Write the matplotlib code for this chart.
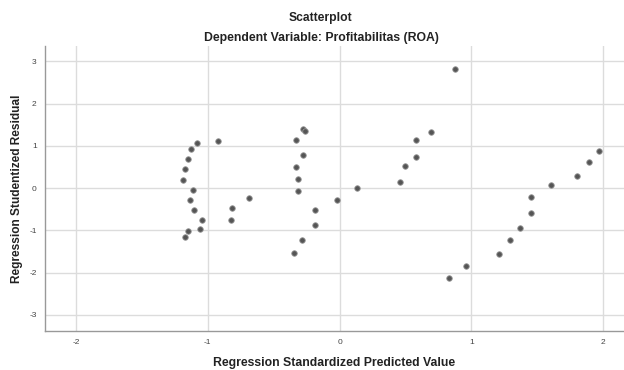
import matplotlib
matplotlib.use("Agg")
import matplotlib.pyplot as plt

pred = [-1.083, -1.127, -1.149, -1.172, -1.185, -1.112, -1.134, -1.106, -1.041, -1.056,
        -1.152, -1.170, -0.922, -0.816, -0.821, -0.684, -0.275, -0.264, -0.328, -0.277,
        -0.332, -0.317, -0.317, -0.184, -0.186, -0.287, -0.345, -0.021, 0.130, 0.879,
        0.697, 0.578, 0.580, 0.497, 0.457, 1.971, 1.891, 1.802, 1.602, 1.451,
        1.455, 1.372, 1.291, 1.210, 0.962, 0.833]
resid = [1.071, 0.929, 0.678, 0.449, 0.196, -0.054, -0.291, -0.520, -0.764, -0.962,
         -1.009, -1.158, 1.118, -0.466, -0.764, -0.236, 1.395, 1.355, 1.128, 0.780,
         0.496, 0.213, -0.064, -0.513, -0.882, -1.229, -1.544, -0.277, 0.007, 2.806,
         1.331, 1.135, 0.733, 0.520, 0.135, 0.868, 0.608, 0.284, 0.071, -0.206,
         -0.598, -0.939, -1.222, -1.553, -1.844, -2.121]
xticks = [-2, -1, 0, 1, 2]
yticks = [-3, -2, -1, 0, 1, 2, 3]

plt.rcParams['font.family'] = ['Liberation Sans', 'DejaVu Sans']
fig = plt.figure(figsize=(6.24, 3.70), dpi=100)
W, H = 624, 370
ax = fig.add_axes([45 / W, 1 - 331 / H, (624 - 45) / W, (331 - 46) / H])

ax.scatter(pred, resid, s=16, color='#555555', edgecolors='#9a9a9a', linewidths=0.6, zorder=3)

ax.set_xlim(-2.234, 2.158)
ax.set_ylim(-3.38, 3.36)
ax.set_xticks(xticks)
ax.set_yticks(yticks)
ax.set_xticklabels([str(v) for v in xticks], fontsize=6, color='#444444')
ax.set_yticklabels([str(v) for v in yticks], fontsize=6, color='#444444')
ax.tick_params(length=0, pad=6)
ax.grid(True, color='#dcdcdc', linewidth=1.0, zorder=0)
for s in ['top', 'right']:
    ax.spines[s].set_visible(False)
for s in ['left', 'bottom']:
    ax.spines[s].set_color('#999999')
    ax.spines[s].set_linewidth(1.0)

ax.set_xlabel('Regression Standardized Predicted Value', fontsize=8.8, fontweight='bold', color='#222222', labelpad=8)
ax.set_ylabel('Regression Studentized Residual', fontsize=8.6, fontweight='bold', color='#222222', labelpad=4.5)

fig.text(320 / W, 1 - 17.5 / H, 'Scatterplot', ha='center', va='center', fontsize=8.7, fontweight='bold', color='#222222')
fig.text(321 / W, 1 - 38 / H, 'Dependent Variable: Profitabilitas (ROA)', ha='center', va='center', fontsize=8.8, fontweight='bold', color='#222222')

fig.savefig('out.png', dpi=100)
